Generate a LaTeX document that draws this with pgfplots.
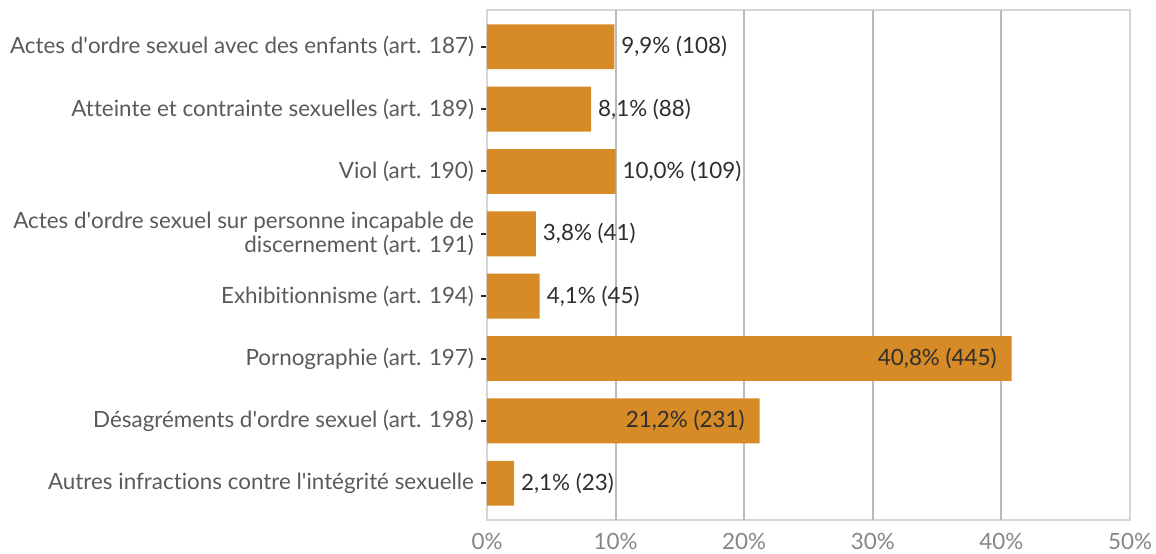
\documentclass[border=0pt]{standalone}
\usepackage{fontspec}
\setmainfont{Lato}[Ligatures={NoCommon}]
\usepackage{pgfplots}
\pgfplotsset{compat=1.18}
\definecolor{barorange}{HTML}{D68B26}
\definecolor{labgray}{HTML}{5A5A5A}
\definecolor{valtext}{HTML}{2E2E2E}
\newcommand{\ap}{\textquotesingle}

\begin{document}
\begin{tikzpicture}
  \useasboundingbox (0,0) rectangle (578pt,276.5pt);
  \begin{axis}[
      at={(243.5pt,16.5pt)}, anchor=south west,
      scale only axis,
      width=321.5pt, height=255pt,
      font=\fontsize{11.2}{12.5}\selectfont,
      xbar, bar width=0.72,
      xmin=0, xmax=50,
      ymin=-0.59, ymax=7.59,
      y dir=reverse,
      ytick={0,...,7},
      yticklabels={
        Actes d\ap ordre sexuel avec des enfants (art. 187),
        Atteinte et contrainte sexuelles (art. 189),
        Viol (art. 190),
        {Actes d\ap ordre sexuel sur personne incapable de\\discernement (art. 191)},
        Exhibitionnisme (art. 194),
        Pornographie (art. 197),
        Désagréments d\ap ordre sexuel (art. 198),
        Autres infractions contre l\ap intégrité sexuelle},
      yticklabel style={align=right, text=labgray, font=\fontsize{11.2}{12}\selectfont},
      xtick={0,10,...,50},
      xticklabels={0\%,10\%,20\%,30\%,40\%,50\%},
      xticklabel style={text=gray!95, font=\fontsize{11.2}{12}\selectfont},
      /pgf/number format/assume math mode=true,
      extra x ticks={10,20,30,40},
      extra x tick labels={},
      extra x tick style={grid=major, major grid style={draw=black!27, line width=1pt}},
      xtick style={draw=none},
      ytick style={draw=black!85, line width=1pt},
      ytick pos=left,
      tick align=outside,
      major tick length=3pt,
      axis line style={draw=black!16, line width=1pt},
      point meta=explicit symbolic,
      nodes near coords,
      every node near coord/.append style={text=valtext, font=\fontsize{11.2}{12.5}\selectfont},
    ]
    \addplot[fill=barorange, draw=none, bar shift=0pt,
      nodes near coords style={anchor=west, xshift=0pt}]
      coordinates {
        (9.9,0) [{9,9\% (108)}]
        (8.1,1) [{8,1\% (88)}]
        (10.0,2) [{10,0\% (109)}]
        (3.8,3) [{3,8\% (41)}]
        (4.1,4) [{4,1\% (45)}]
        (2.1,7) [{2,1\% (23)}]
      };
    \addplot[fill=barorange, draw=none, bar shift=0pt,
      nodes near coords style={anchor=east, xshift=-4pt}]
      coordinates {
        (40.8,5) [{40,8\% (445)}]
        (21.2,6) [{21,2\% (231)}]
      };
  \end{axis}
\end{tikzpicture}
\end{document}
